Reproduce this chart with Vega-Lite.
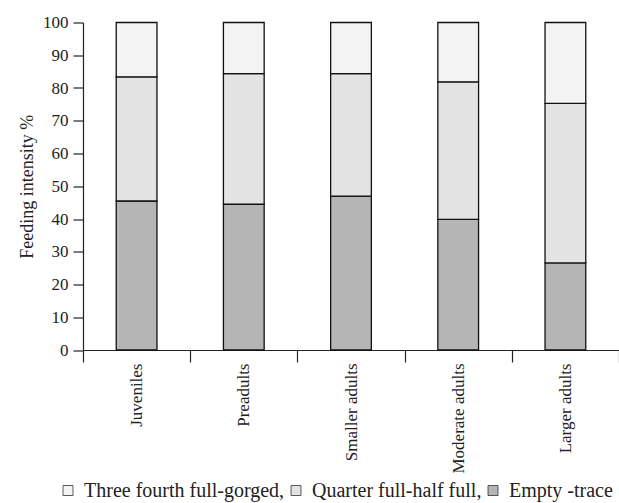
{
  "$schema": "https://vega.github.io/schema/vega-lite/v6.json",
  "autosize": {"type": "none"},
  "width": 536,
  "height": 327.5,
  "padding": {"left": 83, "top": 22.5, "right": 0, "bottom": 153},
  "background": "white",
  "config": {
    "font": "Liberation Serif",
    "view": {"stroke": null},
    "axis": {"domainColor": "#222", "tickColor": "#222", "labelColor": "#222", "titleColor": "#222", "labelFont": "Liberation Serif", "titleFont": "Liberation Serif", "labelFontSize": 17, "titleFontSize": 18, "titleFontWeight": "normal", "grid": false, "domainWidth": 1.2, "tickWidth": 1.2},
    "legend": {"labelFont": "Liberation Serif", "labelFontSize": 20, "labelColor": "#222", "labelLimit": 400}
  },
  "data": {
    "values": [
      {"group": "Juveniles", "category": "Empty -trace", "value": 45.5},
      {"group": "Juveniles", "category": "Quarter full-half full", "value": 37.9},
      {"group": "Juveniles", "category": "Three fourth full-gorged", "value": 16.6},
      {"group": "Preadults", "category": "Empty -trace", "value": 44.5},
      {"group": "Preadults", "category": "Quarter full-half full", "value": 39.9},
      {"group": "Preadults", "category": "Three fourth full-gorged", "value": 15.6},
      {"group": "Smaller adults", "category": "Empty -trace", "value": 47.0},
      {"group": "Smaller adults", "category": "Quarter full-half full", "value": 37.4},
      {"group": "Smaller adults", "category": "Three fourth full-gorged", "value": 15.6},
      {"group": "Moderate adults", "category": "Empty -trace", "value": 39.9},
      {"group": "Moderate adults", "category": "Quarter full-half full", "value": 42.0},
      {"group": "Moderate adults", "category": "Three fourth full-gorged", "value": 18.1},
      {"group": "Larger adults", "category": "Empty -trace", "value": 26.6},
      {"group": "Larger adults", "category": "Quarter full-half full", "value": 48.7},
      {"group": "Larger adults", "category": "Three fourth full-gorged", "value": 24.7}
    ]
  },
  "mark": {"type": "bar", "width": {"band": 0.38}, "stroke": "#111", "strokeWidth": 1.3},
  "encoding": {
    "x": {
      "field": "group", "type": "nominal",
      "sort": ["Juveniles", "Preadults", "Smaller adults", "Moderate adults", "Larger adults"],
      "scale": {"paddingInner": 0, "paddingOuter": 0},
      "axis": {"title": null, "labelAngle": -90, "labelAlign": "right", "labelBaseline": "middle", "tickBand": "extent", "tickSize": 12, "labelPadding": 1}
    },
    "y": {
      "field": "value", "type": "quantitative", "stack": "zero",
      "scale": {"domain": [0, 100], "nice": false},
      "axis": {"title": "Feeding intensity %", "values": [0, 10, 20, 30, 40, 50, 60, 70, 80, 90, 100], "tickSize": 10, "labelPadding": 5, "titlePadding": 6}
    },
    "color": {
      "field": "category", "type": "nominal",
      "scale": {"domain": ["Three fourth full-gorged", "Quarter full-half full", "Empty -trace"], "range": ["#f3f3f3", "#e3e3e3", "#b5b5b5"]},
      "legend": {
        "title": null, "orient": "none", "direction": "horizontal", "columns": 3,
        "legendX": -25, "legendY": 458,
        "symbolType": "square", "symbolSize": 100, "symbolStrokeColor": "#333", "symbolStrokeWidth": 0.8,
        "labelOffset": 6, "columnPadding": 1,
        "labelExpr": "datum.label == 'Empty -trace' ? datum.label : datum.label + ','"
      }
    },
    "order": {"field": "category", "sort": "ascending"}
  }
}
